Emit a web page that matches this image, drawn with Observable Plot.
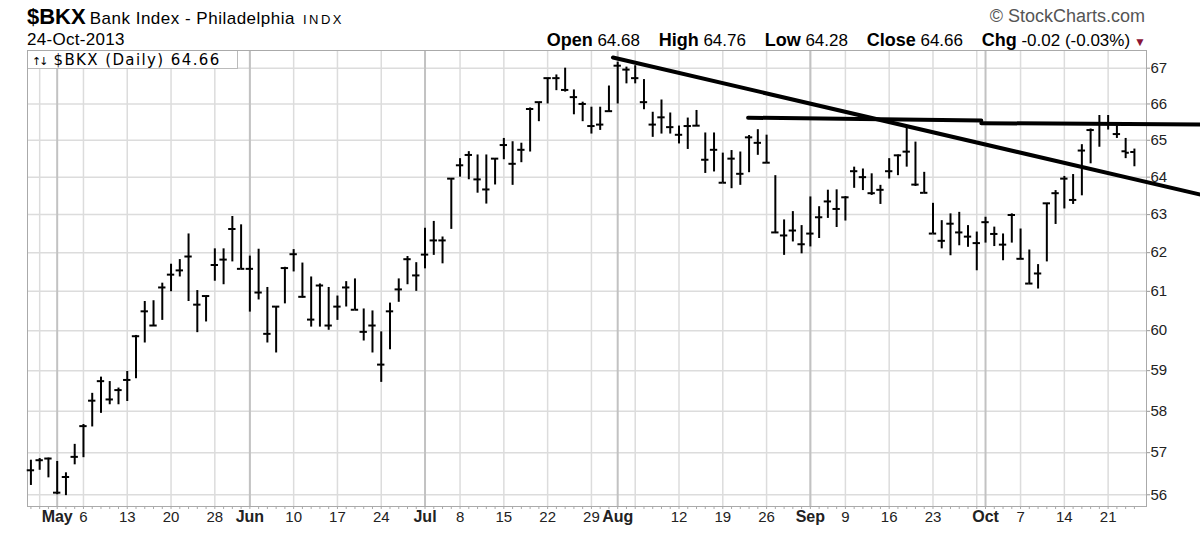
<!DOCTYPE html>
<html>
<head>
<meta charset="utf-8">
<script src="https://cdn.jsdelivr.net/npm/d3@7"></script>
<script src="https://cdn.jsdelivr.net/npm/@observablehq/plot@0.6"></script>
<style>
  html, body { margin: 0; padding: 0; background: #fff; }
  #wrap { position: relative; width: 1200px; height: 535px; overflow: hidden; font-family: "Liberation Sans", Arial, sans-serif; color: #000; }
  #chart { position: absolute; left: 0; top: 0; }
  .abs { position: absolute; white-space: nowrap; }
  #title { left: 27px; top: 6px; line-height: 22px; }
  #title .sym { font-size: 22px; font-weight: bold; }
  #title .name { font-size: 17px; margin-left: 4px; letter-spacing: 0.5px; }
  #title .ex { font-size: 13px; margin-left: 8px; letter-spacing: 2.5px; }
  #date { left: 27px; top: 31px; font-size: 17px; line-height: 17px; letter-spacing: 0.3px; }
  #brand { right: 55px; top: 7px; font-size: 18px; line-height: 18px; color: #555; }
  #quote { right: 54px; top: 32px; font-size: 17px; line-height: 17px; }
  #quote b { font-size: 18px; margin-left: 14px; }
  #quote b:first-child { margin-left: 0; }
  #quote .tri { color: #8b1538; font-size: 12px; margin-left: 4px; }
  #legend { left: 28px; top: 51px; width: 210px; height: 18px; background: #fff; border-right: 1px solid #bbb; border-bottom: 1px solid #bbb; font-family: "DejaVu Sans", Verdana, sans-serif; font-size: 15px; line-height: 18px; letter-spacing: 1.4px; padding-left: 4px; box-sizing: border-box; }
  #legend .ic { font-size: 11px; letter-spacing: -2px; margin-right: 7px; }
</style>
</head>
<body>
<div id="wrap">
  <div id="chart"></div>
  <div id="title" class="abs"><span class="sym">$BKX</span><span class="name">Bank Index - Philadelphia</span><span class="ex">INDX</span></div>
  <div id="date" class="abs">24-Oct-2013</div>
  <div id="brand" class="abs">© StockCharts.com</div>
  <div id="quote" class="abs"><b>Open</b> 64.68 <b>High</b> 64.76 <b>Low</b> 64.28 <b>Close</b> 64.66 <b>Chg</b> -0.02 (-0.03%)<span class="tri">▼</span></div>
  <div id="legend" class="abs"><span class="ic">↑↓</span>$BKX (Daily) 64.66</div>
</div>
<script>
// ---- data: daily OHLC, $BKX, 26-Apr-2013 .. 24-Oct-2013 (trading days) ----
const dates = [
  "2013-04-26","2013-04-29","2013-04-30","2013-05-01","2013-05-02","2013-05-03",
  "2013-05-06","2013-05-07","2013-05-08","2013-05-09","2013-05-10",
  "2013-05-13","2013-05-14","2013-05-15","2013-05-16","2013-05-17",
  "2013-05-20","2013-05-21","2013-05-22","2013-05-23","2013-05-24",
  "2013-05-28","2013-05-29","2013-05-30","2013-05-31",
  "2013-06-03","2013-06-04","2013-06-05","2013-06-06","2013-06-07",
  "2013-06-10","2013-06-11","2013-06-12","2013-06-13","2013-06-14",
  "2013-06-17","2013-06-18","2013-06-19","2013-06-20","2013-06-21",
  "2013-06-24","2013-06-25","2013-06-26","2013-06-27","2013-06-28",
  "2013-07-01","2013-07-02","2013-07-03","2013-07-05",
  "2013-07-08","2013-07-09","2013-07-10","2013-07-11","2013-07-12",
  "2013-07-15","2013-07-16","2013-07-17","2013-07-18","2013-07-19",
  "2013-07-22","2013-07-23","2013-07-24","2013-07-25","2013-07-26",
  "2013-07-29","2013-07-30","2013-07-31","2013-08-01","2013-08-02",
  "2013-08-05","2013-08-06","2013-08-07","2013-08-08","2013-08-09",
  "2013-08-12","2013-08-13","2013-08-14","2013-08-15","2013-08-16",
  "2013-08-19","2013-08-20","2013-08-21","2013-08-22","2013-08-23",
  "2013-08-26","2013-08-27","2013-08-28","2013-08-29","2013-08-30",
  "2013-09-03","2013-09-04","2013-09-05","2013-09-06",
  "2013-09-09","2013-09-10","2013-09-11","2013-09-12","2013-09-13",
  "2013-09-16","2013-09-17","2013-09-18","2013-09-19","2013-09-20",
  "2013-09-23","2013-09-24","2013-09-25","2013-09-26","2013-09-27",
  "2013-09-30","2013-10-01","2013-10-02","2013-10-03","2013-10-04",
  "2013-10-07","2013-10-08","2013-10-09","2013-10-10","2013-10-11",
  "2013-10-14","2013-10-15","2013-10-16","2013-10-17","2013-10-18",
  "2013-10-21","2013-10-22","2013-10-23","2013-10-24"
];
const high = [
  56.82,56.86,56.87,56.79,56.52,57.20, 57.68,58.44,58.84,58.73,58.57,
  58.98,59.88,60.74,60.76,61.21, 61.70,61.82,62.49,61.02,60.89,
  62.10,62.10,62.95,62.73, 61.91,62.09,61.10,60.61,61.62,
  62.08,61.73,61.37,61.19,61.10, 60.88,61.25,61.32,60.55,60.50,
  59.97,60.70,61.32,61.90,61.74, 62.64,62.82,62.41,63.96,
  64.50,64.69,64.60,64.60,64.50, 65.05,64.96,64.92,65.89,66.05,
  66.72,66.81,67.00,66.39,66.05, 65.91,65.91,66.50,67.17,67.03,
  67.07,66.68,65.77,66.11,65.75, 65.39,65.61,65.82,65.20,65.20,
  64.65,64.72,64.68,65.13,65.29, 65.14,64.04,62.86,63.08,62.71,
  63.47,63.21,63.65,63.66, 63.48,64.27,64.22,64.09,63.78,
  64.50,64.60,65.40,64.95,64.13, 63.30,62.84,63.02,63.06,62.71,
  62.54,62.93,62.67,62.49,63.02, 62.62,62.07,61.69,63.30,63.64,
  64.02,64.07,64.88,65.31,65.68, 65.68,65.40,65.05,64.76
];
const low = [
  56.22,56.58,56.40,56.00,55.98,56.71, 56.88,57.62,57.95,58.16,58.16,
  58.24,58.80,59.69,60.11,60.26, 60.99,61.37,60.74,59.95,60.22,
  61.26,61.17,61.76,61.58, 60.47,60.78,59.69,59.44,60.68,
  61.50,60.83,60.09,60.09,60.01, 60.26,60.60,60.53,59.74,59.44,
  58.71,59.52,60.72,61.17,61.00, 61.58,61.93,61.71,62.61,
  64.00,63.93,63.57,63.28,63.79, 64.47,63.78,64.39,64.68,65.51,
  66.00,66.37,66.33,65.70,65.51, 65.17,65.27,65.77,66.00,66.56,
  66.56,65.84,65.08,65.17,65.17, 64.90,64.75,65.39,64.10,64.14,
  63.85,63.69,63.78,64.12,64.59, 64.39,62.50,61.93,62.28,61.97,
  62.15,62.37,62.90,62.66, 62.83,63.70,63.64,63.51,63.27,
  63.95,64.04,64.27,63.75,63.58, 62.50,62.10,61.92,62.18,62.14,
  61.53,62.25,62.16,61.79,62.25, 61.84,61.20,61.06,61.76,62.74,
  63.15,63.27,63.50,64.36,64.81, 65.28,65.05,64.50,64.28
];
const open = [
  56.58,56.82,56.86,56.05,56.42,56.90, 57.64,58.26,58.74,58.29,58.52,
  58.77,59.86,60.49,60.13,61.10, 61.43,61.54,61.90,60.66,60.88,
  61.68,61.82,62.62,61.58, 61.58,60.97,59.92,60.61,61.60,
  61.96,60.86,60.28,61.15,60.13, 60.61,61.10,60.53,59.97,60.13,
  59.15,60.49,61.05,61.83,61.41, 61.95,62.32,62.32,63.96,
  64.32,64.60,63.94,63.67,64.50, 64.87,64.36,64.74,65.86,66.05,
  66.72,66.72,66.39,66.19,66.00, 65.39,65.43,65.80,67.07,66.96,
  66.72,66.05,65.43,65.63,65.36, 65.15,65.39,65.40,64.47,64.74,
  63.85,64.50,64.09,65.08,64.93, 64.39,62.53,62.45,62.58,62.22,
  62.50,62.93,63.35,63.15, 63.46,64.16,64.00,63.57,63.66,
  64.16,64.59,64.69,63.80,63.58, 62.50,62.31,62.76,62.53,62.42,
  62.25,62.80,62.49,62.21,62.99, 61.84,61.20,61.46,63.30,63.57,
  63.96,63.39,64.72,65.28,65.47, 65.45,65.17,64.70,64.68
];
const close = [
  56.58,56.82,56.86,56.05,56.42,56.90, 57.64,58.26,58.74,58.29,58.52,
  58.77,59.86,60.49,60.13,61.10, 61.43,61.54,61.90,60.66,60.88,
  61.68,61.82,62.62,61.58, 61.58,60.97,59.92,60.61,61.60,
  61.96,60.86,60.28,61.15,60.13, 60.61,61.10,60.53,59.97,60.13,
  59.15,60.49,61.05,61.83,61.41, 61.95,62.32,62.32,63.96,
  64.32,64.60,63.94,63.67,64.50, 64.87,64.36,64.74,65.86,66.05,
  66.72,66.72,66.39,66.19,66.00, 65.39,65.43,65.80,67.07,66.96,
  66.72,66.05,65.43,65.63,65.36, 65.15,65.39,65.40,64.47,64.74,
  63.85,64.50,64.09,65.08,64.93, 64.39,62.53,62.45,62.58,62.22,
  62.50,62.93,63.35,63.15, 63.46,64.16,64.00,63.57,63.66,
  64.16,64.59,64.69,63.80,63.58, 62.50,62.31,62.76,62.53,62.42,
  62.25,62.80,62.49,62.21,62.99, 61.84,61.20,61.46,63.30,63.57,
  63.96,63.39,64.72,65.28,65.47, 65.45,65.17,64.66
];

// axis tick labels (date → label); month starts are bold
const monthTicks = ["2013-05-01","2013-06-03","2013-07-01","2013-08-01","2013-09-03","2013-10-01"];
const monthLabels = ["May","Jun","Jul","Aug","Sep","Oct"];
const weekTicks = ["2013-05-06","2013-05-13","2013-05-20","2013-05-28","2013-06-10","2013-06-17","2013-06-24",
  "2013-07-08","2013-07-15","2013-07-22","2013-07-29","2013-08-12","2013-08-19","2013-08-26",
  "2013-09-09","2013-09-16","2013-09-23","2013-10-07","2013-10-14","2013-10-21"];
const weekLabels = ["6","13","20","28","10","17","24","8","15","22","29","12","19","26","9","16","23","7","14","21"];
// weekly gridlines without a label
const extraGrid = ["2013-04-29","2013-06-03","2013-07-01","2013-08-05","2013-09-03","2013-09-30"];
const yTicks = [56,57,58,59,60,61,62,63,64,65,66,67];

// hand-drawn trend lines: [trading-day position, price]
const trendDown = [[66.46, 67.30], [133.55, 63.53]];
const trendFlatA = [[81.89, 65.62], [108.52, 65.54]];
const trendFlatB = [[108.52, 65.47], [133.55, 65.43]];

// ---- build ----
const idx = new Map(dates.map((d, i) => [d, i]));
const bars = dates.map((d, i) => ({i, date: d, open: open[i], high: high[i], low: low[i], close: close[i]}));
const monthRows = monthTicks.map((d, k) => ({i: idx.get(d), label: monthLabels[k]}));
const weekRows = weekTicks.map((d, k) => ({i: idx.get(d), label: weekLabels[k]}));
const gridWeek = [...weekTicks, ...extraGrid].map(d => idx.get(d));
const gridMonth = monthTicks.map(d => idx.get(d));
const toPts = a => a.map(([x, y]) => ({x, y}));
const tw = 0.42; // tick half-length in trading days

const chart = Plot.plot({
  width: 1200,
  height: 535,
  marginTop: 50,
  marginBottom: 29,
  marginLeft: 27,
  marginRight: 54,
  x: {type: "linear", domain: [-0.39, 127.38], axis: null},
  y: {type: "log", domain: [55.725, 67.5], axis: null},
  style: {fontFamily: "'Liberation Sans', Arial, sans-serif", fontSize: "15px", color: "#222", background: "transparent", overflow: "visible"},
  marks: [
    Plot.ruleY(yTicks, {stroke: "#dcdcdc", strokeWidth: 1.5}),
    Plot.ruleX(gridWeek, {stroke: "#dcdcdc", strokeWidth: 1.5}),
    Plot.ruleX(gridMonth, {stroke: "#c2c2c2", strokeWidth: 2}),
    Plot.frame({stroke: "#aaa"}),
    Plot.axisX(dates.map((d, i) => i), {tickSize: 3, tickFormat: () => "", stroke: "#aaa"}),
    Plot.axisY(yTicks, {anchor: "right", tickSize: 3, tickPadding: 1, fontSize: 15, label: null, stroke: "#999"}),
    Plot.text(monthRows, {x: "i", text: "label", frameAnchor: "bottom", dy: 15, fontWeight: "bold", fontSize: 16}),
    Plot.text(weekRows, {x: "i", text: "label", frameAnchor: "bottom", dy: 15, fontSize: 15}),
    Plot.ruleX(bars, {x: "i", y1: "low", y2: "high", stroke: "#000", strokeWidth: 2}),
    Plot.ruleY(bars, {y: "open", x1: d => d.i - tw, x2: "i", stroke: "#000", strokeWidth: 2}),
    Plot.ruleY(bars, {y: "close", x1: "i", x2: d => d.i + tw, stroke: "#000", strokeWidth: 2}),
    Plot.line(toPts(trendDown), {x: "x", y: "y", stroke: "#000", strokeWidth: 4}),
    Plot.line(toPts(trendFlatA), {x: "x", y: "y", stroke: "#000", strokeWidth: 4}),
    Plot.line(toPts(trendFlatB), {x: "x", y: "y", stroke: "#000", strokeWidth: 4})
  ]
});
document.getElementById("chart").appendChild(chart);
</script>
</body>
</html>
